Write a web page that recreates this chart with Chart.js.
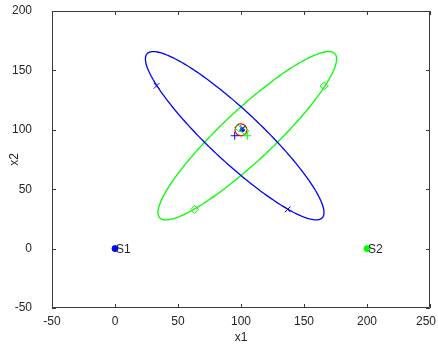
<!DOCTYPE html>
<html>
<head>
    <title>Localization estimate</title>
    <script src="https://cdn.jsdelivr.net/npm/chart.js"></script>
    <style>
        body { margin: 0; background: #fff; }
        #wrap { width: 438px; height: 344px; }
    </style>
</head>
<body>
    <div id="wrap"><canvas id="plot" width="438" height="344"></canvas></div>

    <script>
        // axis ticks
        const xTicks = [-50, 0, 50, 100, 150, 200, 250];
        const yTicks = [-50, 0, 50, 100, 150, 200];

        // sensors
        const sensorNames = ['S1', 'S2'];
        const sensorX = [0, 200];
        const sensorY = [0, 0];

        // covariance ellipses: center, semi axes, angle (deg)
        const blueEllipse = { cx: 95, cy: 95, a: 98, b: 21, angle: 135 };
        const greenEllipse = { cx: 105, cy: 95, a: 98, b: 21, angle: 45 };

        // points marked on the ellipses
        const blueCrossX = [33, 137, 101];
        const blueCrossY = [137, 33, 101];
        const greenDiamondX = [63, 166, 98, 103];
        const greenDiamondY = [33, 137, 102, 99];

        // estimates near the target
        const bluePlusX = [95];
        const bluePlusY = [95];
        const greenPlusX = [105];
        const greenPlusY = [95];
        const targetX = [100];
        const targetY = [100];
        const blueDotX = [101];
        const blueDotY = [100];

        function pts(xs, ys) {
            return xs.map((x, i) => ({ x: x, y: ys[i] }));
        }

        function ellipse(e) {
            const out = [];
            const t = e.angle * Math.PI / 180;
            for (let i = 0; i <= 120; i++) {
                const p = i / 120 * 2 * Math.PI;
                const u = e.a * Math.cos(p), v = e.b * Math.sin(p);
                out.push({ x: e.cx + u * Math.cos(t) - v * Math.sin(t),
                           y: e.cy + u * Math.sin(t) + v * Math.cos(t) });
            }
            return out;
        }

        const BLUE = '#0000ff', GREEN = '#00ff00', RED = '#ff0000';
        const FONT = '"Liberation Sans", Arial, sans-serif';
        const TEXT = '#262626';

        // frame, inside ticks, tick labels, axis titles and sensor labels
        const decor = {
            id: 'decor',
            afterDraw(chart) {
                const c = chart.ctx, a = chart.chartArea;
                const sx = chart.scales.x, sy = chart.scales.y;
                c.save();
                c.setLineDash([]);
                c.strokeStyle = '#3a3a3a';
                c.lineWidth = 1;
                c.beginPath();
                c.rect(Math.round(a.left) + 0.5, Math.round(a.top) + 0.5,
                       Math.round(a.right - a.left) - 1, Math.round(a.bottom - a.top) - 1);
                xTicks.forEach(v => {
                    const px = Math.round(sx.getPixelForValue(v)) + 0.5;
                    c.moveTo(px, a.bottom); c.lineTo(px, a.bottom - 4);
                    c.moveTo(px, a.top); c.lineTo(px, a.top + 4);
                });
                yTicks.forEach(v => {
                    const py = Math.round(sy.getPixelForValue(v)) + 0.5;
                    c.moveTo(a.left, py); c.lineTo(a.left + 4, py);
                    c.moveTo(a.right, py); c.lineTo(a.right - 4, py);
                });
                c.stroke();

                c.fillStyle = TEXT;
                c.font = '12px ' + FONT;
                c.textAlign = 'center';
                c.textBaseline = 'middle';
                xTicks.forEach(v => c.fillText(String(v), Math.min(sx.getPixelForValue(v), 426), a.bottom + 14));
                c.textAlign = 'right';
                yTicks.forEach(v => c.fillText(String(v), a.left - 20, sy.getPixelForValue(v)));

                c.textAlign = 'left';
                sensorNames.forEach((n, i) => {
                    c.fillText(n, sx.getPixelForValue(sensorX[i]) + 1, sy.getPixelForValue(sensorY[i]) + 1);
                });

                c.textAlign = 'center';
                c.fillText('x1', (a.left + a.right) / 2, 338);
                c.translate(15, (a.top + a.bottom) / 2);
                c.rotate(-Math.PI / 2);
                c.fillText('x2', 0, 0);
                c.restore();
            }
        };

        const ctx = document.getElementById('plot').getContext('2d');
        const chart = new Chart(ctx, {
            type: 'scatter',
            data: {
                datasets: [
                    { data: ellipse(blueEllipse), showLine: true, borderColor: BLUE, borderWidth: 1.3, pointRadius: 0, tension: 0.1 },
                    { data: ellipse(greenEllipse), showLine: true, borderColor: GREEN, borderWidth: 1.3, pointRadius: 0, tension: 0.1 },
                    { data: pts(blueCrossX, blueCrossY), pointStyle: 'crossRot', pointRadius: 4, borderColor: BLUE, pointBorderColor: BLUE, borderWidth: 1 },
                    { data: pts(greenDiamondX, greenDiamondY), pointStyle: 'rectRot', pointRadius: 4, borderColor: GREEN, pointBorderColor: GREEN, backgroundColor: 'rgba(0,0,0,0)', borderWidth: 1 },
                    { data: pts(bluePlusX, bluePlusY), pointStyle: 'cross', pointRadius: 4, borderColor: BLUE, pointBorderColor: BLUE, borderWidth: 1 },
                    { data: pts(greenPlusX, greenPlusY), pointStyle: 'cross', pointRadius: 4, borderColor: GREEN, pointBorderColor: GREEN, borderWidth: 1 },
                    { data: pts(targetX, targetY), pointStyle: 'circle', pointRadius: 6, borderColor: RED, pointBorderColor: RED, backgroundColor: 'rgba(0,0,0,0)', borderWidth: 1.2 },
                    { data: pts(blueDotX, blueDotY), pointStyle: 'circle', pointRadius: 2, borderColor: BLUE, backgroundColor: BLUE, borderWidth: 1 },
                    { data: pts(sensorX.slice(0, 1), sensorY.slice(0, 1)), pointStyle: 'circle', pointRadius: 3, borderColor: BLUE, backgroundColor: BLUE },
                    { data: pts(sensorX.slice(1), sensorY.slice(1)), pointStyle: 'circle', pointRadius: 3, borderColor: GREEN, backgroundColor: GREEN }
                ]
            },
            options: {
                responsive: false,
                animation: false,
                layout: { padding: { top: 11, right: 8, left: 0, bottom: 0 } },
                plugins: { legend: { display: false }, tooltip: { enabled: false } },
                scales: {
                    x: {
                        type: 'linear', min: -50, max: 250,
                        afterFit: s => { s.height = 36; },
                        grid: { display: false, drawTicks: false },
                        border: { display: false },
                        ticks: { display: false }
                    },
                    y: {
                        type: 'linear', min: -50, max: 200,
                        afterFit: s => { s.width = 52; },
                        grid: { display: false, drawTicks: false },
                        border: { display: false },
                        ticks: { display: false }
                    }
                }
            },
            plugins: [decor]
        });
    </script>
</body>
</html>
